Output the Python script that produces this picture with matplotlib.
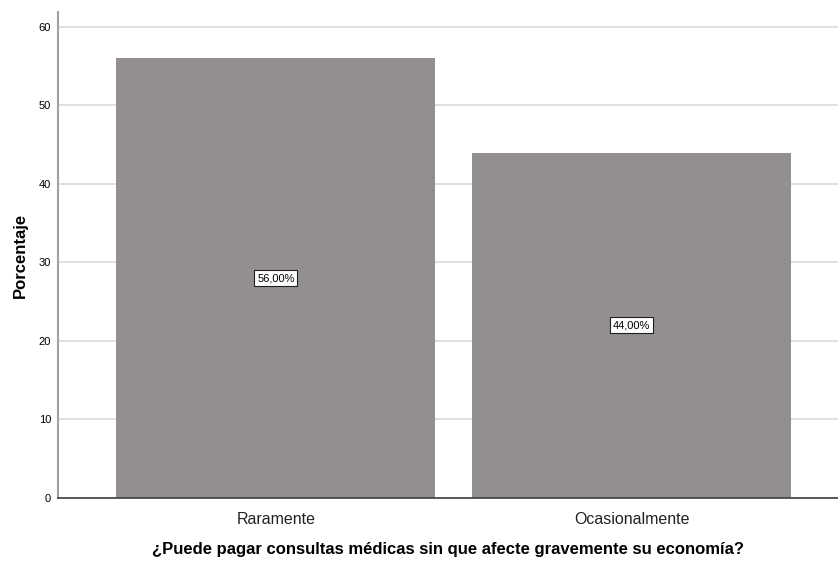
import matplotlib
matplotlib.use("Agg")
import matplotlib.pyplot as plt

categories = ["Raramente", "Ocasionalmente"]
percentages = [56.0, 44.0]
yticks = [0, 10, 20, 30, 40, 50, 60]

plt.rcParams['font.family'] = ['Liberation Sans', 'DejaVu Sans']

fig = plt.figure(figsize=(8.38, 5.65), dpi=100)
ax = fig.add_axes([58/838, 1-498/565, 780/838, (498-12)/565])

x = list(range(len(categories)))
ax.bar(x, percentages, width=0.896, color="#948f8f", zorder=2)
ax.set_xlim(-0.612, 1.579)
ax.set_ylim(0, 61.9)
ax.set_yticks(yticks)
ax.set_yticklabels([str(t) for t in yticks], fontsize=8)
ax.set_xticks(x)
ax.set_xticklabels(categories, fontsize=11.5, color='#222222')
ax.tick_params(axis='x', length=0, pad=10)
ax.tick_params(axis='y', length=0, pad=5)
ax.grid(axis='y', color='#d9d9d9', linewidth=1.2, zorder=0)
for s in ['top', 'right']:
    ax.spines[s].set_visible(False)
ax.spines['left'].set_color('#a0a0a0')
ax.spines['left'].set_linewidth(1.5)
ax.spines['bottom'].set_color('#404040')
ax.spines['bottom'].set_linewidth(1.2)

for xi, v in zip(x, percentages):
    ax.text(xi, v/2, f"{v:.2f}%".replace('.', ','), ha='center', va='center', fontsize=8,
            bbox=dict(boxstyle='square,pad=0.25', facecolor='white', edgecolor='#202020', linewidth=0.8), zorder=3)

ax.set_ylabel("Porcentaje", fontsize=12, fontweight='bold', labelpad=8)
ax.set_xlabel("¿Puede pagar consultas médicas sin que afecte gravemente su economía?", fontsize=12, fontweight='bold', labelpad=11)

fig.savefig("out.png", dpi=100)
